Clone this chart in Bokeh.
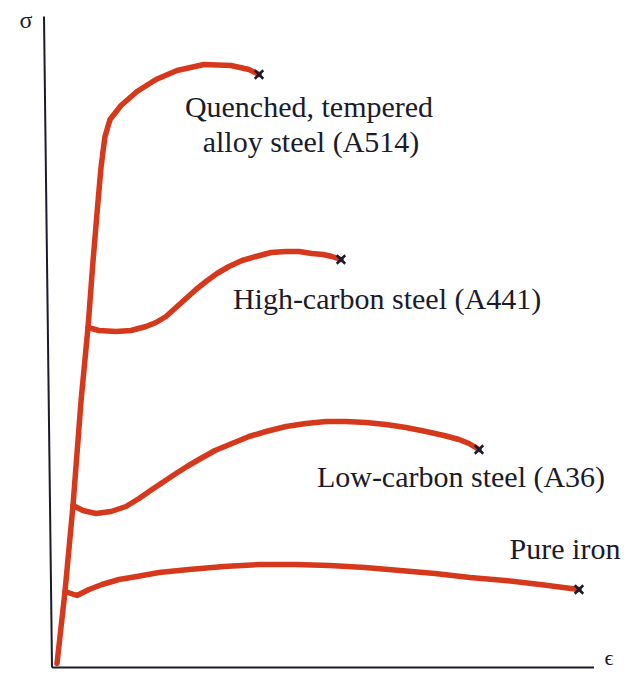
from bokeh.plotting import figure
from bokeh.models import Range1d, ColumnDataSource
from bokeh.core.properties import value
from bokeh.embed import file_html
from bokeh.resources import INLINE

# schematic stress-strain curves (arbitrary units: strain right, stress up)
a514_strain = [5, 13, 21, 29, 36, 41, 46, 49, 51, 53, 58, 69, 85, 104, 125, 152, 179, 197, 207]
a514_stress = [4, 76, 162, 266, 340, 406, 466, 500, 516, 531, 548, 562, 576, 588, 597, 603, 602, 598, 593]

a441_strain = [36, 47, 64, 79, 94, 104, 114, 124, 134, 144, 154, 165, 177, 190, 204,
               219, 234, 247, 260, 271, 280, 289]
a441_stress = [340, 337, 336, 337, 341, 345, 351, 360, 369, 378, 386, 394, 401, 407, 411,
               415, 416, 416, 414, 413, 411, 408]

a36_strain = [21, 31, 44, 59, 74, 87, 100, 112, 124, 135, 147, 163, 180, 197, 214, 234,
              254, 274, 294, 314, 334, 354, 374, 392, 407, 417, 427]
a36_stress = [162, 157, 154, 156, 161, 169, 178, 186, 194, 201, 208, 217, 224, 231, 236, 241,
              244, 246, 246, 245, 243, 240, 236, 232, 228, 224, 218]

iron_strain = [13, 25, 37, 50, 67, 85, 107, 137, 172, 208, 243, 278, 313, 348, 383, 418,
               453, 488, 527]
iron_stress = [76, 72, 78, 83, 88, 91, 95, 98, 101, 103, 103, 102, 100, 97, 94, 90,
               87, 83, 78]

labels = ["Quenched, tempered", "alloy steel (A514)", "High-carbon steel (A441)",
          "Low-carbon steel (A36)", "Pure iron"]
label_x = [257, 259, 335, 409, 513]
label_y = [561, 526, 369, 191, 119]

RED = "#d6381b"
INK = "#1b1b2b"
SERIF = value("Liberation Serif")

p = figure(width=630, height=673, output_backend="svg", toolbar_location=None,
           min_border=0, outline_line_color=None,
           x_range=Range1d(-51.5, 578.5), y_range=Range1d(-6, 667))
p.axis.visible = False
p.grid.visible = False

# axes drawn as lines
p.line([-8, 0], [651, 0], line_color=INK, line_width=2)
p.line([0, 542], [0, 0], line_color=INK, line_width=2)
p.text(x=[-26], y=[648], text=["σ"], text_font=SERIF,
       text_font_size="24px", text_color=INK, text_align="center", text_baseline="middle")
p.text(x=[557], y=[10], text=["ϵ"], text_font=SERIF,
       text_font_size="22px", text_color=INK, text_align="center", text_baseline="middle")

for xs, ys in [(a514_strain, a514_stress), (a441_strain, a441_stress),
               (a36_strain, a36_stress), (iron_strain, iron_stress)]:
    p.line(xs, ys, line_color=RED, line_width=5.5, line_join="round", line_cap="round")
    p.scatter([xs[-1]], [ys[-1]], marker="x", size=12, line_color=INK, line_width=2.5)

src = ColumnDataSource(dict(x=label_x, y=label_y, t=labels))
p.text(x="x", y="y", text="t", source=src, text_font=SERIF,
       text_font_size="30px", text_color=INK, text_align="center", text_baseline="middle")

open("out.html", "w").write(file_html(p, INLINE))
